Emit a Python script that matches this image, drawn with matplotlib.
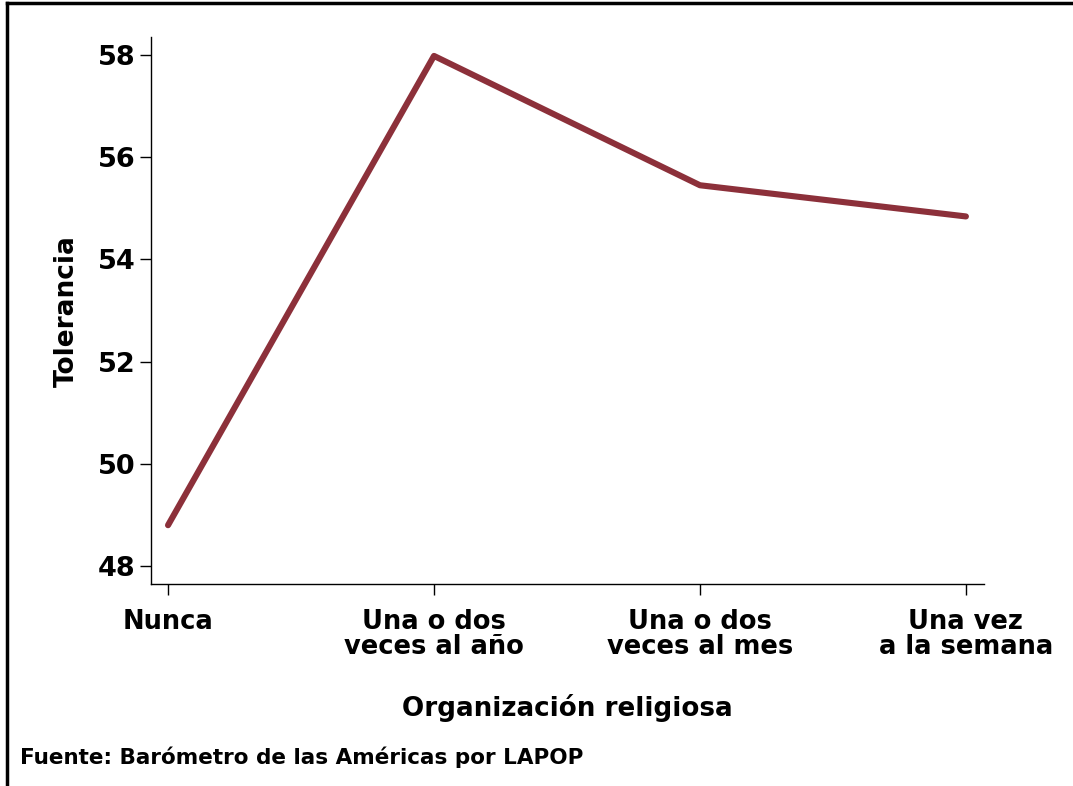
import matplotlib
matplotlib.use("Agg")
import matplotlib.pyplot as plt
from matplotlib.lines import Line2D

# Data
categories = ["Nunca", "Una o dos\nveces al año", "Una o dos\nveces al mes", "Una vez\na la semana"]
tolerancia = [48.8, 57.98, 55.45, 54.84]
y_ticks = [48, 50, 52, 54, 56, 58]

plt.rcParams['font.family'] = ['DejaVu Sans']
plt.rcParams['font.weight'] = 'bold'

W, H = 1073, 786
fig = plt.figure(figsize=(W / 100, H / 100), dpi=100)
ax = fig.add_axes([151 / W, 1 - 584 / H, (984 - 151) / W, (584 - 37) / H])

x = list(range(len(categories)))
ax.plot(x, tolerancia, color="#8c303a", linewidth=4.4, solid_capstyle="round")

ax.set_xlim(-0.064, 3.068)
ax.set_ylim(47.65, 58.35)
ax.set_xticks(x)
ax.set_xticklabels(categories, fontsize=18.5, fontweight="bold", linespacing=0.95)
ax.set_yticks(y_ticks)
ax.set_yticklabels([str(v) for v in y_ticks], fontsize=19.5, fontweight="bold")
ax.tick_params(axis="both", direction="out", length=8, width=1, pad=3)
ax.tick_params(axis="x", pad=10)

for s in ["top", "right"]:
    ax.spines[s].set_visible(False)
for s in ["left", "bottom"]:
    ax.spines[s].set_linewidth(1)

fig.text(67 / W, 1 - 311 / H, "Tolerancia", rotation=90, fontsize=19,
         fontweight="bold", ha="center", va="center")
fig.text(567 / W, 1 - 708 / H, "Organización religiosa", fontsize=18.8,
         fontweight="bold", ha="center", va="center")
fig.text(20 / W, 1 - 757 / H, "Fuente: Barómetro de las Américas por LAPOP",
         fontsize=15.5, fontweight="bold", ha="left", va="center")

# outer frame (top and left edges visible)
fig.add_artist(Line2D([7 / W, 1.0], [1 - 3 / H, 1 - 3 / H], color="black", linewidth=2.5,
                      transform=fig.transFigure))
fig.add_artist(Line2D([7 / W, 7 / W], [0.0, 1 - 3 / H], color="black", linewidth=2.5,
                      transform=fig.transFigure))

fig.savefig("out.png", dpi=100)
